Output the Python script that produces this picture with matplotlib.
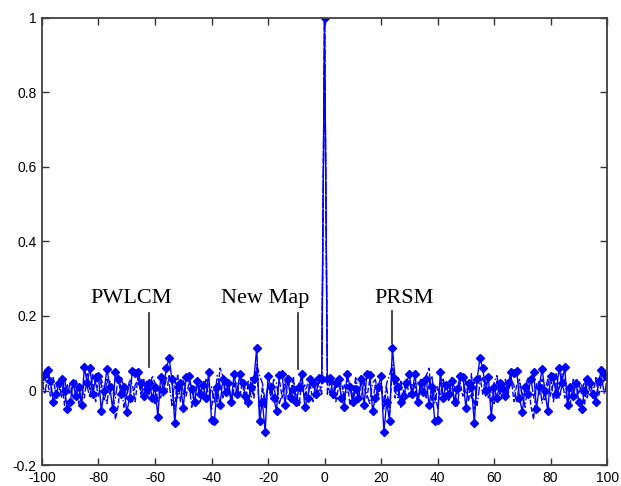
import numpy as np
import matplotlib.pyplot as plt

# autocorrelation values for positive lags 1..100 (curves are symmetric about lag 0)
lags = np.arange(-100, 101)

pos_a = [0.03, 0.033, -0.01, 0.02, 0.032, -0.02, -0.043, 0.044, 0.01, -0.032,
         0.005, -0.02, 0.03, -0.039, 0.045, 0.042, -0.054, -0.02, 0.01, 0.04,
         -0.111, -0.03, -0.082, 0.115, 0.03, 0.01, -0.03, -0.016, 0.02, 0.045,
         -0.01, 0.045, -0.03, 0.02, -0.005, 0.03, -0.04, 0.01, -0.082, -0.078,
         0.049, -0.02, 0.015, -0.01, 0.025, -0.03, 0.005, 0.04, 0.035, -0.046,
         0.02, 0.01, -0.088, 0.03, 0.086, 0.06, 0.0, 0.035, -0.07, 0.01,
         -0.02, 0.02, 0.005, -0.015, 0.02, 0.05, 0.048, 0.052, -0.02, -0.058,
         0.01, -0.01, 0.03, 0.05, -0.05, 0.01, 0.058, 0.0, -0.055, 0.04,
         0.035, -0.01, 0.06, 0.02, 0.062, -0.04, 0.01, -0.015, 0.02, -0.03,
         -0.05, 0.0, 0.03, 0.02, -0.01, -0.032, 0.025, 0.055, 0.045, 0.035]

pos_b = [0.02, -0.01, 0.03, -0.03, 0.01, 0.02, -0.02, 0.03, -0.04, 0.0,
         0.025, -0.015, 0.04, 0.01, -0.02, 0.03, -0.03, 0.015, -0.01, 0.02,
         -0.05, 0.01, -0.06, 0.06, -0.02, 0.035, -0.045, 0.0, 0.03, -0.02,
         0.02, 0.01, -0.04, 0.03, -0.01, 0.04, 0.06, -0.03, 0.01, -0.05,
         0.02, 0.03, -0.02, 0.0, 0.035, -0.04, 0.01, 0.02, -0.015, 0.03,
         -0.03, 0.045, -0.05, 0.02, 0.04, -0.01, 0.03, -0.02, 0.01, -0.035,
         0.025, 0.0, -0.02, 0.03, -0.01, 0.04, -0.03, 0.015, 0.03, -0.02,
         0.01, 0.035, -0.04, -0.078, 0.02, -0.01, 0.03, -0.025, 0.015, 0.04,
         -0.03, 0.02, 0.0, 0.045, -0.02, 0.01, -0.035, 0.03, 0.02, -0.01,
         0.015, -0.04, 0.025, 0.0, -0.02, 0.035, -0.015, 0.02, 0.03, 0.01]

pos_c = [-0.01, 0.025, -0.02, 0.01, 0.03, -0.025, 0.015, -0.005, 0.02, -0.03,
         0.035, 0.0, -0.02, 0.025, -0.01, -0.035, 0.02, 0.03, -0.015, 0.01,
         -0.03, 0.02, 0.04, 0.07, 0.01, -0.02, 0.025, -0.04, 0.015, 0.03,
         -0.01, 0.02, -0.025, 0.0, 0.03, -0.02, 0.015, 0.04, -0.035, 0.01,
         -0.02, 0.03, 0.0, -0.03, 0.02, 0.01, -0.045, 0.025, 0.03, -0.01,
         0.015, -0.02, 0.03, -0.04, 0.02, 0.035, -0.015, 0.01, -0.03, 0.02,
         0.04, -0.01, 0.025, -0.025, 0.0, 0.03, 0.015, -0.03, 0.02, -0.01,
         -0.045, 0.02, 0.035, -0.02, 0.01, 0.025, -0.035, 0.0, 0.03, -0.015,
         0.02, 0.045, -0.02, 0.01, 0.03, -0.03, 0.015, 0.0, -0.025, 0.02,
         -0.01, 0.03, -0.02, 0.025, 0.01, -0.03, 0.02, 0.04, -0.01, 0.025]


def full(pos):
    pos = np.array(pos)
    return np.concatenate([pos[::-1], [1.0], pos])


prsm = full(pos_a)
newmap = full(pos_b)
pwlcm = full(pos_c)

labels = ['PWLCM', 'New Map', 'PRSM']
label_x = [-68.3, -21.1, 28.0]
label_y = 0.235
pointer_x = [-62.1, -9.4, 23.9]
pointer_top = [0.208, 0.208, 0.213]
pointer_bot = [0.063, 0.058, 0.128]

xticks = np.arange(-100, 101, 20)
yticks = [-0.2, 0, 0.2, 0.4, 0.6, 0.8, 1]
ytick_labels = ['-0.2', '0', '0.2', '0.4', '0.6', '0.8', '1']

fig = plt.figure(figsize=(6.21, 4.86), dpi=100)
ax = fig.add_axes([0.0676, 0.0432, 0.910, 0.9198])

blue = (0, 0, 1)
ax.plot(lags, pwlcm, color=blue, lw=1.0, ls='-.')
ax.plot(lags, newmap, color=blue, lw=1.0, ls='--')
ax.plot(lags, prsm, color=blue, lw=1.0, ls='-', marker='D', ms=3.8)

for t, tx, px, pt, pb in zip(labels, label_x, pointer_x, pointer_top, pointer_bot):
    ax.text(tx, label_y, t, ha='center', va='baseline',
            family='Liberation Serif', fontsize=16)
    ax.plot([px, px], [pb, pt], color='0.15', lw=1.2)

ax.set_xlim(-100, 100)
ax.set_ylim(-0.2, 1)
ax.set_xticks(xticks)
ax.set_xticklabels([str(v) for v in xticks])
ax.set_yticks(yticks)
ax.set_yticklabels(ytick_labels)
ax.tick_params(direction='in', length=5, width=1, top=True, right=True,
               labelsize=10, color='0.2')
ax.tick_params(axis='x', pad=4)
ax.tick_params(axis='y', pad=4)
for lab in ax.get_xticklabels() + ax.get_yticklabels():
    lab.set_family('Liberation Sans')
for s in ax.spines.values():
    s.set_linewidth(1.3)
    s.set_color('0.25')

fig.savefig('out.png', dpi=100)
